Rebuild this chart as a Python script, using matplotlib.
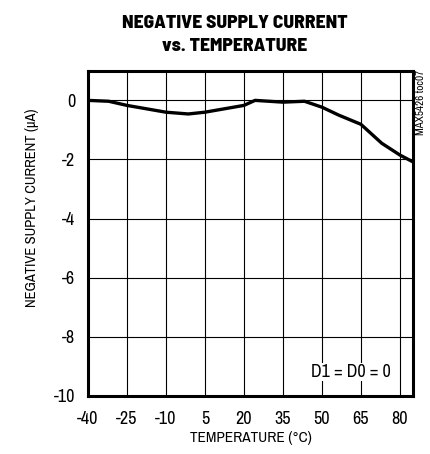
import matplotlib
matplotlib.use("Agg")
import matplotlib.pyplot as plt

plt.rcParams['font.family'] = ['Archivo Narrow', 'DejaVu Sans']
plt.rcParams['axes.unicode_minus'] = False

temps = [-40, -32, -25, -10, -1.4, 5, 20, 24.3, 35, 43.3, 50, 56.5, 65, 73, 80, 85]
current = [0.0, -0.03, -0.17, -0.4, -0.46, -0.4, -0.17, 0.0, -0.06, -0.03, -0.23, -0.5, -0.81, -1.45, -1.85, -2.08]
xticks = [-40, -25, -10, 5, 20, 35, 50, 65, 80]
yticks = [0, -2, -4, -6, -8, -10]

fig = plt.figure(figsize=(4.31, 4.54), dpi=100)
ax = fig.add_axes([0.204, 0.128, 0.754, 0.716])
ax.plot(temps, current, color='black', lw=2.4, solid_capstyle='butt', solid_joinstyle='round', zorder=3)
ax.set_xlim(-40, 85)
ax.set_ylim(-10, 1)
ax.set_xticks(xticks)
ax.set_yticks(yticks)
ax.grid(True, color='black', lw=0.8)
ax.tick_params(axis='y', length=0, labelsize=13, pad=9)
ax.tick_params(axis='x', length=0, labelsize=13, pad=11)
for s in ax.spines.values():
    s.set_linewidth(2.2)
    s.set_zorder(4)
ax.set_xlabel('TEMPERATURE (°C)', fontsize=11, labelpad=3)
ax.set_ylabel('NEGATIVE SUPPLY CURRENT (µA)', fontsize=10.5)
ax.yaxis.set_label_coords(-0.15, 0.58)
ax.text(61, -9.19, 'D1 = D0 = 0', fontsize=13, ha='center', va='center', zorder=5,
        bbox=dict(facecolor='white', edgecolor='none', pad=1))
fig.text(0.545, 0.967, 'NEGATIVE SUPPLY CURRENT\nvs. TEMPERATURE', ha='center', va='top',
         fontsize=14, fontweight=800, linespacing=1.55, family=['Barlow Semi Condensed', 'DejaVu Sans'])
fig.text(0.977, 0.846, 'MAX5426 toc07', rotation=90, ha='center', va='top', fontsize=8)
fig.savefig('out.png', dpi=100)
